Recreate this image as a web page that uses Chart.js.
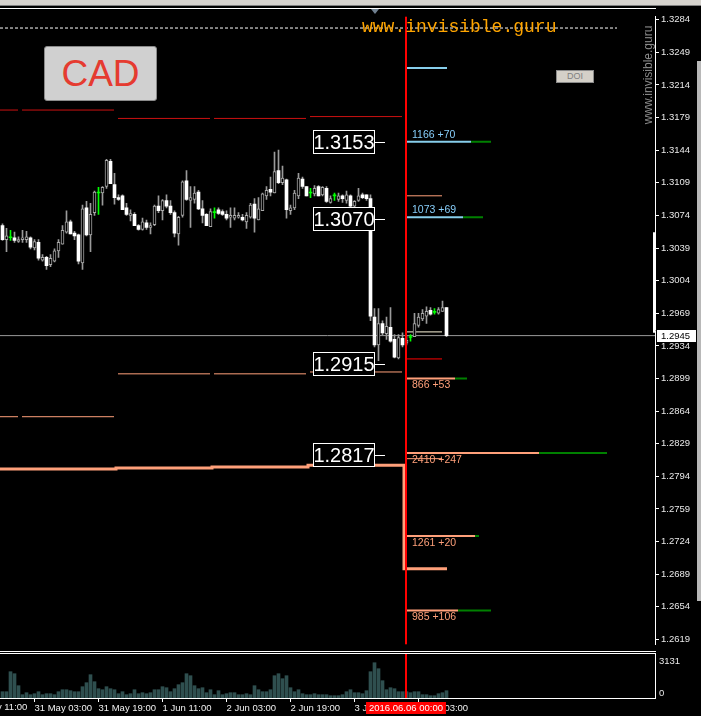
<!DOCTYPE html>
<html lang="en">
  <head>
    <meta charset="UTF-8" />
    <title>USDCAD H1</title>
    <style>
      body {
        margin: 0;
        background: #000;
        font-family: "Liberation Sans", Arial, sans-serif;
      }
      #page {
        position: relative;
        width: 701px;
        height: 716px;
        overflow: hidden;
        background: #000;
      }
      .abs {
        position: absolute;
      }
      canvas {
        display: block;
      }
      #toolbar {
        left: 0; top: 0; width: 701px; height: 5px;
        background: #d6d3ce;
        border-bottom: 1px solid #808080;
      }
      .hline {
        left: 0; width: 656px; height: 1px; background: #fff; z-index: 3;
      }
      #cad {
        left: 44px; top: 46px; width: 111px; height: 53px;
        background: #d0d0d0; border: 1px solid #8a8a8a; border-radius: 3px;
        color: #e53b30; font-size: 37px; line-height: 53px; text-align: center;
        z-index: 4;
      }
      #site {
        left: 362px; top: 18px; font-family: "Liberation Mono", monospace;
        font-size: 18px; line-height: 18px; color: #ffa500; z-index: 4;
      }
      #doi {
        left: 556px; top: 70px; width: 36px; height: 11px;
        background: #d4d0c8; border: 1px solid #8a8a8a;
        color: #808080; font-size: 9px; line-height: 11px; text-align: center; z-index: 4;
      }
      #vsite {
        left: 595px; top: 69px; width: 106px; height: 12px;
        color: #8c8c8c; font-size: 12px; line-height: 12px; text-align: center;
        transform: rotate(-90deg); z-index: 4; white-space: nowrap;
      }
      #shift {
        left: 371px; top: 9px; width: 0; height: 0;
        border-left: 4px solid transparent; border-right: 4px solid transparent;
        border-top: 5px solid #708090; z-index: 4;
      }
      #scroll {
        left: 697px; top: 61px; width: 4px; height: 540px; background: #b8b8b8; z-index: 4;
      }
    </style>
    <script src="https://cdn.jsdelivr.net/npm/chart.js"></script>
  </head>
  <body>
    <div id="page">
      <div id="toolbar" class="abs"></div>
      <div class="abs hline" style="top: 8px"></div>
      <div class="abs" style="left: 0; top: 9px">
        <canvas id="mainChart" width="701" height="643"></canvas>
      </div>
      <div class="abs hline" style="top: 651px"></div>
      <div class="abs hline" style="top: 653px"></div>
      <div class="abs" style="left: 0; top: 654px">
        <canvas id="volChart" width="701" height="62"></canvas>
      </div>
      <div id="cad" class="abs">CAD</div>
      <div id="site" class="abs">www.invisible.guru</div>
      <div id="doi" class="abs">DOI</div>
      <div id="vsite" class="abs">www.invisible.guru</div>
      <div id="shift" class="abs"></div>
      <div id="scroll" class="abs"></div>
    </div>

    <script>
      // H1 bars, 30 May 2016 ... 6 Jun 2016
      const opens = [
        1.3063, 1.3048, 1.3050, 1.3050, 1.3046, 1.3048, 1.3048, 1.3050, 1.3039, 1.3045,
        1.3026, 1.3029, 1.3021, 1.3025, 1.3036, 1.3043, 1.3056, 1.3067, 1.3055, 1.3053,
        1.3023, 1.3082, 1.3053, 1.3077, 1.3098, 1.3098, 1.3105, 1.3132, 1.3107, 1.3093,
        1.3095, 1.3082, 1.3074, 1.3075, 1.3063, 1.3059, 1.3066, 1.3061, 1.3064, 1.3084,
        1.3079, 1.3090, 1.3084, 1.3077, 1.3054, 1.3074, 1.3111, 1.3090, 1.3091, 1.3099,
        1.3081, 1.3075, 1.3062, 1.3077, 1.3080, 1.3078, 1.3075, 1.3072, 1.3071, 1.3072,
        1.3072, 1.3067, 1.3072, 1.3086, 1.3069, 1.3079, 1.3095, 1.3102, 1.3098, 1.3122,
        1.3109, 1.3112, 1.3079, 1.3082, 1.3095, 1.3113, 1.3105, 1.3098, 1.3097, 1.3105,
        1.3096, 1.3103, 1.3088, 1.3095, 1.3091, 1.3095, 1.3090, 1.3095, 1.3084, 1.3090,
        1.3096, 1.3096, 1.3092, 1.2965, 1.2935, 1.2958, 1.2947, 1.2954, 1.2941, 1.2921,
        1.2942, 1.2937, 1.2943, 1.2944, 1.2956, 1.2963, 1.2966, 1.2972, 1.2970, 1.2969,
        1.2971, 1.2975,
      ];
      const highs = [
        1.3065, 1.3060, 1.3058, 1.3056, 1.3051, 1.3058, 1.3057, 1.3051, 1.3048, 1.3048,
        1.3032, 1.3030, 1.3032, 1.3038, 1.3048, 1.3063, 1.3079, 1.3069, 1.3057, 1.3054,
        1.3085, 1.3089, 1.3087, 1.3100, 1.3104, 1.3105, 1.3134, 1.3134, 1.3119, 1.3096,
        1.3096, 1.3087, 1.3080, 1.3077, 1.3064, 1.3071, 1.3069, 1.3066, 1.3085, 1.3095,
        1.3091, 1.3096, 1.3090, 1.3079, 1.3073, 1.3111, 1.3122, 1.3105, 1.3105, 1.3101,
        1.3090, 1.3076, 1.3081, 1.3082, 1.3082, 1.3080, 1.3079, 1.3082, 1.3082, 1.3077,
        1.3075, 1.3077, 1.3087, 1.3092, 1.3093, 1.3098, 1.3105, 1.3115, 1.3142, 1.3144,
        1.3127, 1.3113, 1.3085, 1.3101, 1.3119, 1.3115, 1.3105, 1.3103, 1.3106, 1.3106,
        1.3105, 1.3105, 1.3095, 1.3098, 1.3098, 1.3096, 1.3100, 1.3096, 1.3090, 1.3103,
        1.3098, 1.3096, 1.3096, 1.2974, 1.2974, 1.2961, 1.2965, 1.2975, 1.2946, 1.2946,
        1.2948, 1.2945, 1.2946, 1.2969, 1.2969, 1.2973, 1.2976, 1.2975, 1.2974, 1.2975,
        1.2982, 1.2975,
      ];
      const lows = [
        1.3047, 1.3035, 1.3047, 1.3045, 1.3045, 1.3045, 1.3045, 1.3038, 1.3037, 1.3026,
        1.3025, 1.3016, 1.3019, 1.3024, 1.3029, 1.3043, 1.3055, 1.3054, 1.3048, 1.3022,
        1.3016, 1.3052, 1.3035, 1.3074, 1.3075, 1.3085, 1.3103, 1.3108, 1.3086, 1.3090,
        1.3080, 1.3074, 1.3068, 1.3063, 1.3058, 1.3058, 1.3059, 1.3054, 1.3063, 1.3077,
        1.3069, 1.3082, 1.3075, 1.3051, 1.3042, 1.3072, 1.3090, 1.3061, 1.3087, 1.3080,
        1.3066, 1.3063, 1.3062, 1.3071, 1.3075, 1.3074, 1.3069, 1.3061, 1.3069, 1.3071,
        1.3068, 1.3060, 1.3071, 1.3056, 1.3069, 1.3079, 1.3091, 1.3095, 1.3098, 1.3108,
        1.3107, 1.3071, 1.3075, 1.3080, 1.3092, 1.3103, 1.3095, 1.3093, 1.3095, 1.3095,
        1.3095, 1.3088, 1.3087, 1.3090, 1.3089, 1.3088, 1.3087, 1.3082, 1.3077, 1.3089,
        1.3092, 1.3090, 1.2961, 1.2933, 1.2918, 1.2946, 1.2941, 1.2938, 1.2921, 1.2920,
        1.2933, 1.2935, 1.2939, 1.2944, 1.2954, 1.2961, 1.2958, 1.2967, 1.2968, 1.2968,
        1.2971, 1.2944,
      ];
      const closes = [
        1.3048, 1.3052, 1.3050, 1.3047, 1.3048, 1.3050, 1.3051, 1.3040, 1.3046, 1.3028,
        1.3029, 1.3020, 1.3028, 1.3036, 1.3045, 1.3058, 1.3067, 1.3054, 1.3052, 1.3025,
        1.3081, 1.3053, 1.3075, 1.3099, 1.3098, 1.3104, 1.3133, 1.3108, 1.3093, 1.3091,
        1.3080, 1.3075, 1.3076, 1.3063, 1.3059, 1.3067, 1.3061, 1.3063, 1.3084, 1.3079,
        1.3090, 1.3084, 1.3077, 1.3055, 1.3072, 1.3110, 1.3091, 1.3093, 1.3098, 1.3081,
        1.3074, 1.3063, 1.3078, 1.3077, 1.3076, 1.3075, 1.3071, 1.3074, 1.3074, 1.3074,
        1.3069, 1.3074, 1.3085, 1.3071, 1.3081, 1.3097, 1.3101, 1.3099, 1.3121, 1.3109,
        1.3114, 1.3080, 1.3082, 1.3098, 1.3114, 1.3105, 1.3095, 1.3098, 1.3103, 1.3095,
        1.3104, 1.3089, 1.3092, 1.3095, 1.3095, 1.3092, 1.3096, 1.3084, 1.3089, 1.3095,
        1.3093, 1.3092, 1.2966, 1.2935, 1.2958, 1.2948, 1.2955, 1.2939, 1.2922, 1.2943,
        1.2935, 1.2940, 1.2943, 1.2958, 1.2965, 1.2969, 1.2971, 1.2968, 1.2970, 1.2973,
        1.2975, 1.2945,
      ];
      const volumes = [
        537, 537, 2327, 2148, 1074, 269, 448, 269, 358, 537,
        269, 358, 358, 269, 537, 716, 716, 627, 537, 537,
        985, 1343, 2059, 1432, 806, 716, 985, 806, 716, 358,
        537, 269, 358, 716, 358, 448, 358, 448, 716, 716,
        985, 895, 537, 806, 1164, 1343, 2148, 1969, 1074, 806,
        895, 448, 716, 269, 627, 269, 358, 448, 448, 269,
        269, 358, 269, 1074, 716, 537, 537, 716, 1969, 2148,
        1701, 1969, 895, 537, 716, 358, 269, 269, 358, 269,
        269, 269, 179, 179, 179, 269, 537, 716, 448, 448,
        358, 627, 2327, 3131, 2596, 1522, 716, 895, 806, 537,
        537, 537, 448, 537, 537, 269, 269, 179, 179, 358,
        448, 627,
      ];

      const priceTicks = [
        1.3284, 1.3249, 1.3214, 1.3179, 1.3144, 1.3109, 1.3074, 1.3039, 1.3004, 1.2969,
        1.2934, 1.2899, 1.2864, 1.2829, 1.2794, 1.2759, 1.2724, 1.2689, 1.2654, 1.2619,
      ];
      const volumeTicks = [3131, 0];
      const timeTickBars = [-8, 8, 24, 40, 56, 72, 88, 104];
      const timeTickLabels = [
        "30 May 11:00", "31 May 03:00", "31 May 19:00", "1 Jun 11:00",
        "2 Jun 03:00", "2 Jun 19:00", "3 Jun 11:00", "6 Jun 03:00",
      ];
      const sessionBar = 101;
      const sessionLabel = "2016.06.06 00:00";
      const currentPrice = 1.2945;

      // daily levels: [fromBar, toBar, price]
      const redDayLevels = [
        [-0.625, 3.875, 1.3187], [4.875, 27.875, 1.3187], [28.875, 51.875, 1.3178],
        [52.875, 75.875, 1.3178], [76.875, 99.875, 1.3180],
      ];
      const salmonDayLevels = [
        [-0.625, 3.875, 1.2858], [4.875, 27.875, 1.2858], [28.875, 51.875, 1.2904],
        [52.875, 75.875, 1.2904], [76.875, 99.875, 1.2906],
      ];
      const stepBars = [-0.625, 28.375, 52.375, 76.375, 100.375, 111.125];
      const stepPrices = [1.2802, 1.2803, 1.2804, 1.2806, 1.2695, 1.2695];
      const dashedLevel = [-0.625, 153.625, 1.3275];
      const rangeMark = [163, 1.3056, 1.2948];

      // zones drawn from the session start
      const blueMark = [111.125, 1.3232];
      const blueZonePrices = [1.3153, 1.3072];
      const blueZoneEnds = [117.125, 115.125];
      const blueZoneExt = [122.125, 120.125];
      const blueZoneLabels = ["1166 +70", "1073 +69"];
      const salmonZonePrices = [1.2899, 1.2819, 1.2730, 1.2650];
      const salmonZoneEnds = [113.125, 134.125, 118.125, 113.875];
      const salmonZoneExt = [116.125, 151.125, 119.125, 122.125];
      const salmonZoneLabels = ["866 +53", "2410 +247", "1261 +20", "985 +106"];
      const shortSalmon = [1.3095, 1.2813];
      const shortCream = [1.2949];
      const shortRed = [1.2920];
      const shortEnd = 109.875;

      const boxLevels = [1.3153, 1.3070, 1.2915, 1.2817];
      const boxBar = 93.125;

      const BAR_MIN = -0.625;
      const BAR_MAX = 163.125;
      const FONT = "'Liberation Sans', Arial, sans-serif";
      const SALMON = "#ffa07a";
      const BLUE = "#87ceeb";
      const GREEN = "#008000";

      const bars = opens.map((o, i) => i);
      const kind = (i) => (closes[i] > opens[i] ? "up" : closes[i] < opens[i] ? "down" : "doji");

      const levelSets = [];
      function addLevel(x0, x1, price, color, width, dash) {
        levelSets.push({
          type: "line",
          data: [{ x: x0, y: price }, { x: x1, y: price }],
          borderColor: color,
          borderWidth: width,
          borderDash: dash || [],
          pointRadius: 0,
          fill: false,
          order: 3,
        });
      }

      addLevel(dashedLevel[0], dashedLevel[1], dashedLevel[2], "#ffffff", 1, [3, 2]);
      addLevel(BAR_MIN, BAR_MAX, currentPrice, "#9a9a9a", 1);
      redDayLevels.forEach((l) => addLevel(l[0], l[1], l[2], "#cc1111", 1));
      salmonDayLevels.forEach((l) => addLevel(l[0], l[1], l[2], SALMON, 1));

      const zoneStart = sessionBar + 0.125;
      addLevel(zoneStart, blueMark[0], blueMark[1], BLUE, 2);
      blueZonePrices.forEach((p, i) => {
        addLevel(blueZoneEnds[i], blueZoneExt[i], p, GREEN, 2);
        addLevel(zoneStart, blueZoneEnds[i], p, BLUE, 2);
      });
      salmonZonePrices.forEach((p, i) => {
        addLevel(salmonZoneEnds[i], salmonZoneExt[i], p, GREEN, 2);
        addLevel(zoneStart, salmonZoneEnds[i], p, SALMON, 2);
      });
      shortSalmon.forEach((p) => addLevel(zoneStart, shortEnd, p, SALMON, 1));
      shortCream.forEach((p) => addLevel(zoneStart, shortEnd, p, "#fff8dc", 1));
      shortRed.forEach((p) => addLevel(zoneStart, shortEnd, p, "#ff0000", 1));

      levelSets.push({
        type: "line",
        data: stepBars.map((b, i) => ({ x: b, y: stepPrices[i] })),
        borderColor: SALMON,
        borderWidth: 3,
        stepped: true,
        pointRadius: 0,
        fill: false,
        order: 3,
      });
      levelSets.push({
        type: "line",
        data: [{ x: rangeMark[0], y: rangeMark[1] }, { x: rangeMark[0], y: rangeMark[2] }],
        borderColor: "#ffffff",
        borderWidth: 3,
        pointRadius: 0,
        fill: false,
        order: 3,
      });

      const mainOverlay = {
        id: "mainOverlay",
        afterDatasetsDraw(chart) {
          const { ctx, chartArea, scales } = chart;
          const x = scales.x;
          const y = scales.y;
          ctx.save();
          const sx = Math.floor(x.getPixelForValue(sessionBar));
          ctx.fillStyle = "#ff0000";
          ctx.fillRect(sx - 1, chartArea.top, 2, chartArea.bottom - chartArea.top);

          ctx.font = "10.5px " + FONT;
          ctx.textBaseline = "middle";
          ctx.textAlign = "left";
          const lx = sx + 6;
          ctx.fillStyle = "#87cefa";
          blueZonePrices.forEach((p, i) => ctx.fillText(blueZoneLabels[i], lx, y.getPixelForValue(p) - 7));
          ctx.fillStyle = SALMON;
          salmonZonePrices.forEach((p, i) => ctx.fillText(salmonZoneLabels[i], lx, y.getPixelForValue(p) + 7));

          ctx.font = "20px " + FONT;
          ctx.textAlign = "center";
          const right = Math.round(x.getPixelForValue(boxBar));
          boxLevels.forEach((p) => {
            const py = Math.round(y.getPixelForValue(p));
            ctx.fillStyle = "#000";
            ctx.fillRect(right - 62, py - 12, 62, 24);
            ctx.strokeStyle = "#fff";
            ctx.lineWidth = 1;
            ctx.strokeRect(right - 61.5, py - 11.5, 61, 23);
            ctx.fillStyle = "#fff";
            ctx.fillRect(right, py, 10, 1);
            ctx.fillText(p.toFixed(4), right - 31, py + 1);
          });
          ctx.restore();
        },
        afterDraw(chart) {
          const { ctx, chartArea, scales } = chart;
          const py = Math.round(scales.y.getPixelForValue(currentPrice));
          ctx.save();
          ctx.fillStyle = "#fff";
          ctx.fillRect(chartArea.right + 2, py - 6, 39, 12);
          ctx.fillStyle = "#000";
          ctx.font = "9.5px " + FONT;
          ctx.textBaseline = "middle";
          ctx.textAlign = "left";
          ctx.fillText(currentPrice.toFixed(4), chartArea.right + 6, py);
          ctx.restore();
        },
      };

      new Chart(document.getElementById("mainChart"), {
        type: "bar",
        data: {
          datasets: [
            {
              data: bars.map((i) => ({ x: i, y: [opens[i], closes[i]] })),
              backgroundColor: (c) => {
                const k = kind(c.dataIndex);
                return k === "doji" ? "#00ff00" : k === "up" ? "#000000" : "#ffffff";
              },
              borderColor: "#a8a8a8",
              borderWidth: (c) => (kind(c.dataIndex) === "up" ? 1 : 0),
              borderSkipped: false,
              barThickness: 3,
              minBarLength: 1,
              grouped: false,
              order: 1,
            },
            {
              data: bars.map((i) => ({ x: i, y: [lows[i], highs[i]] })),
              backgroundColor: (c) => (kind(c.dataIndex) === "doji" ? "#00ff00" : "#9a9a9a"),
              barThickness: 1,
              grouped: false,
              order: 2,
            },
            ...levelSets,
          ],
        },
        options: {
          responsive: false,
          animation: false,
          devicePixelRatio: 1,
          layout: { padding: 0, autoPadding: false },
          plugins: { legend: { display: false }, tooltip: { enabled: false } },
          scales: {
            x: { type: "linear", min: BAR_MIN, max: BAR_MAX, offset: false, display: false },
            y: {
              position: "right",
              min: 1.261385,
              max: 1.328714,
              afterFit: (s) => {
                s.width = 46;
              },
              afterBuildTicks: (s) => {
                s.ticks = priceTicks.map((v) => ({ value: v }));
              },
              ticks: {
                autoSkip: false,
                padding: 2,
                color: "#e8e8e8",
                font: { family: "Liberation Sans", size: 9.5 },
                callback: (v) => Number(v).toFixed(4),
              },
              grid: { drawOnChartArea: false, color: "#ffffff", tickLength: 4 },
              border: { color: "#ffffff" },
            },
          },
        },
        plugins: [mainOverlay],
      });

      const volOverlay = {
        id: "volOverlay",
        afterDatasetsDraw(chart) {
          const { ctx, chartArea, scales } = chart;
          const sx = Math.floor(scales.x.getPixelForValue(sessionBar));
          ctx.save();
          ctx.fillStyle = "#ff0000";
          ctx.fillRect(sx - 1, chartArea.top, 2, chartArea.bottom - chartArea.top);
          ctx.restore();
        },
        afterDraw(chart) {
          const { ctx, chartArea, scales } = chart;
          const x = scales.x;
          ctx.save();
          ctx.font = "9.5px " + FONT;
          ctx.fillStyle = "#e8e8e8";
          ctx.textAlign = "left";
          volumeTicks.forEach((v, i) => {
            ctx.textBaseline = i === 0 ? "middle" : "bottom";
            ctx.fillText(String(v), chartArea.right + 4, scales.y.getPixelForValue(v) - (i === 0 ? 1 : 0));
          });
          // time labels that begin left of the visible range
          ctx.fillStyle = "#f0f0f0";
          ctx.textBaseline = "top";
          timeTickBars.forEach((b, i) => {
            if (b < BAR_MIN) {
              ctx.fillText(timeTickLabels[i], x.getPixelForValue(b), chartArea.bottom + 5);
            }
          });
          const sx = Math.floor(x.getPixelForValue(sessionBar));
          ctx.fillStyle = "#ff0000";
          ctx.fillRect(sx - 40, chartArea.bottom + 4, 80, 12);
          ctx.fillStyle = "#ffffff";
          ctx.textAlign = "center";
          ctx.textBaseline = "middle";
          ctx.fillText(sessionLabel, sx, chartArea.bottom + 10);
          ctx.restore();
        },
      };

      const visibleTimeBars = timeTickBars.filter((b) => b >= BAR_MIN);
      const visibleTimeLabels = timeTickLabels.filter((t, i) => timeTickBars[i] >= BAR_MIN);

      new Chart(document.getElementById("volChart"), {
        type: "bar",
        data: {
          datasets: [
            {
              data: bars.map((i) => ({ x: i, y: volumes[i] })),
              backgroundColor: "#2f4f4f",
              barThickness: 3,
              grouped: false,
            },
          ],
        },
        options: {
          responsive: false,
          animation: false,
          devicePixelRatio: 1,
          layout: { padding: 0, autoPadding: false },
          plugins: { legend: { display: false }, tooltip: { enabled: false } },
          scales: {
            x: {
              type: "linear",
              min: BAR_MIN,
              max: BAR_MAX,
              offset: false,
              bounds: "data",
              position: "bottom",
              afterFit: (s) => {
                s.height = 18;
              },
              afterBuildTicks: (s) => {
                s.ticks = visibleTimeBars.map((v) => ({ value: v }));
                s.min = BAR_MIN;
                s.max = BAR_MAX;
              },
              ticks: {
                autoSkip: false,
                maxRotation: 0,
                align: "start",
                padding: 1,
                color: "#f0f0f0",
                font: { family: "Liberation Sans", size: 9.5 },
                callback: (v, i) => visibleTimeLabels[i],
              },
              grid: { drawOnChartArea: false, offset: false, color: "#ffffff", tickLength: 4 },
              border: { color: "#ffffff" },
            },
            y: {
              position: "right",
              min: -27,
              max: 3911,
              afterFit: (s) => {
                s.width = 46;
              },
              ticks: { display: false },
              grid: { display: false },
              border: { color: "#ffffff" },
            },
          },
        },
        plugins: [volOverlay],
      });
    </script>
  </body>
</html>
